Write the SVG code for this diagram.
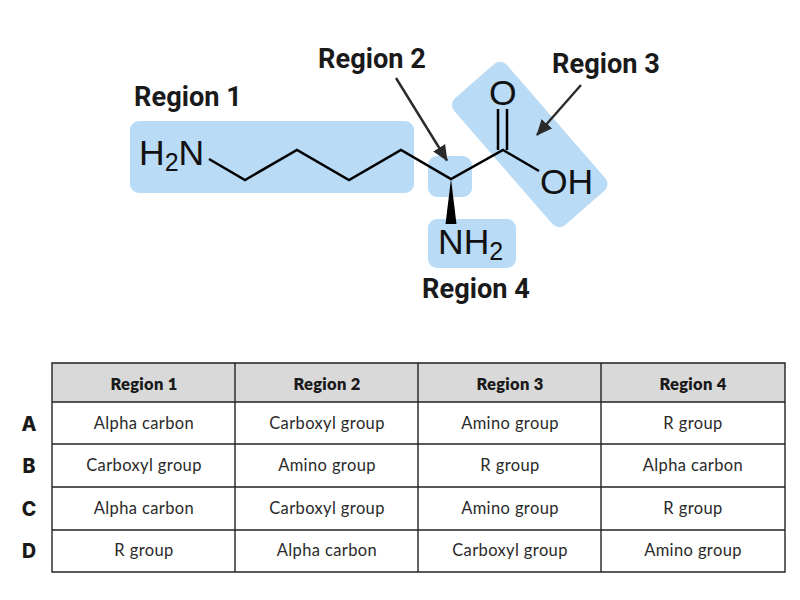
<svg xmlns="http://www.w3.org/2000/svg" width="800" height="600" viewBox="0 0 800 600">
<style>
.hl{fill:#b9dbf5}
.bond{fill:none;stroke:#000;stroke-width:2.5;stroke-linejoin:miter}
.atom{font-family:"Liberation Sans",Arial,sans-serif;font-size:35.5px;fill:#111}
.sub{font-size:25px}
.reg{font-family:Roboto,sans-serif;font-weight:700;font-size:27.2px;fill:#1a1a1a;text-anchor:middle}
.arrow{stroke:#2a2a2a;stroke-width:2.4;fill:none;marker-end:url(#ah)}
.grid{stroke:#222;stroke-width:1.4;fill:none}
.th{font-family:Lato,sans-serif;font-weight:800;font-size:16.5px;letter-spacing:.3px;fill:#1a1a1a;text-anchor:middle}
.td{font-family:Lato,sans-serif;font-size:16.5px;letter-spacing:.38px;fill:#2a2a2a;text-anchor:middle}
.rl{font-family:Inter,sans-serif;font-weight:800;font-size:19.5px;fill:#1a1a1a;text-anchor:middle}
</style>
<defs><marker id="ah" markerUnits="userSpaceOnUse" markerWidth="18" markerHeight="18" refX="15" refY="7.500" orient="auto"><path d="M0,0.500L16,7.500L0,14.500Z" fill="#2a2a2a"/></marker></defs>
<g id="region1"><rect class="hl" x="130" y="121" width="284" height="72" rx="9"/><text class="reg" x="188" y="106">Region 1</text></g>
<g id="region2"><rect class="hl" x="428" y="156" width="44" height="41" rx="9"/><text class="reg" x="372" y="68">Region 2</text></g>
<g id="region3"><rect class="hl" x="-84" y="-35" width="168" height="70" rx="9" transform="translate(529.7,144.5) rotate(49)"/><text class="reg" x="606" y="73">Region 3</text></g>
<g id="region4"><rect class="hl" x="428" y="219" width="88" height="49" rx="9"/><text class="reg" x="476" y="298">Region 4</text></g>
<g id="molecule">
<text class="atom" x="139" y="165">H<tspan class="sub" dy="6">2</tspan><tspan dy="-6">N</tspan></text>
<path class="bond" d="M209,159L245,180L297,150L349,180L401,150L451,179L503,150L539,171"/>
<path class="bond" d="M498,150V109M507,150V109"/>
<path d="M451,179L445.500,224H456.500Z" fill="#000"/>
<text class="atom" x="489" y="105">O</text>
<text class="atom" x="540" y="194">OH</text>
<text class="atom" x="438" y="254">NH<tspan class="sub" dy="6">2</tspan></text>
</g>
<g id="connectors">
<line class="arrow" x1="396" y1="78" x2="447" y2="160.500"/>
<line class="arrow" x1="581" y1="85" x2="537" y2="135"/>
</g>
<g id="table">
<rect x="52" y="363" width="733" height="39" fill="#d9d9d9"/>
<path class="grid" d="M52,363H785V572H52ZM235,363V572M418,363V572M601,363V572M52,402H785M52,444H785M52,487H785M52,530H785"/>
<text class="th" x="144" y="389.500">Region 1</text><text class="th" x="327" y="389.500">Region 2</text><text class="th" x="510" y="389.500">Region 3</text><text class="th" x="693" y="389.500">Region 4</text>
<text class="rl" x="29" y="431">A</text><text class="rl" x="29" y="473">B</text><text class="rl" x="29" y="516">C</text><text class="rl" x="29" y="558">D</text>
<text class="td" x="144" y="428.500">Alpha carbon</text><text class="td" x="327" y="428.500">Carboxyl group</text><text class="td" x="510" y="428.500">Amino group</text><text class="td" x="693" y="428.500">R group</text>
<text class="td" x="144" y="470.500">Carboxyl group</text><text class="td" x="327" y="470.500">Amino group</text><text class="td" x="510" y="470.500">R group</text><text class="td" x="693" y="470.500">Alpha carbon</text>
<text class="td" x="144" y="513.500">Alpha carbon</text><text class="td" x="327" y="513.500">Carboxyl group</text><text class="td" x="510" y="513.500">Amino group</text><text class="td" x="693" y="513.500">R group</text>
<text class="td" x="144" y="555.500">R group</text><text class="td" x="327" y="555.500">Alpha carbon</text><text class="td" x="510" y="555.500">Carboxyl group</text><text class="td" x="693" y="555.500">Amino group</text>
</g>
</svg>
